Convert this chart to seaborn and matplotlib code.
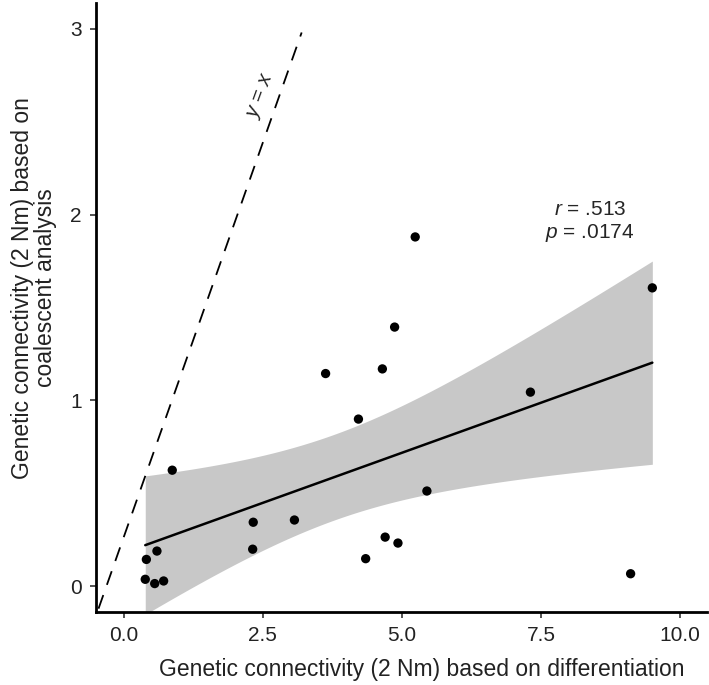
import numpy as np
import pandas as pd
import matplotlib
matplotlib.use("Agg")
import matplotlib.pyplot as plt
import seaborn as sns

# Data
x_diff = [0.41, 0.60, 0.39, 0.56, 0.72, 0.875, 2.33, 2.32, 3.07, 3.63, 4.22,
          4.35, 4.65, 4.70, 4.87, 4.93, 5.24, 5.45, 7.31, 9.11, 9.50]
y_coal = [0.145, 0.19, 0.038, 0.015, 0.029, 0.625, 0.345, 0.20, 0.357, 1.145, 0.90,
          0.149, 1.17, 0.265, 1.395, 0.233, 1.88, 0.513, 1.045, 0.068, 1.606]
ref_x = [-0.45, 3.20]
ref_y = [-0.12, 2.98]
x_ticks = [0.0, 2.5, 5.0, 7.5, 10.0]
x_ticklabels = ["0.0", "2.5", "5.0", "7.5", "10.0"]
y_ticks = [0, 1, 2, 3]
y_ticklabels = ["0", "1", "2", "3"]
stat_text = r"$\it{r}$ = .513" + "\n" + r"$\it{p}$ = .0174"
ref_label = r"$\it{y}$ = $\it{x}$"

df = pd.DataFrame({"x": x_diff, "y": y_coal})

sns.set_style("white")
plt.rcParams["font.family"] = ["Liberation Sans", "DejaVu Sans"]
plt.rcParams["mathtext.fontset"] = "custom"
plt.rcParams["mathtext.rm"] = "Liberation Sans"
plt.rcParams["mathtext.it"] = "Liberation Sans:italic"

fig = plt.figure(figsize=(7.09, 6.85), dpi=100)
ax = fig.add_axes([0.135, 0.106, 0.862, 0.890])

# analytic 95% confidence band of the linear fit
xa = np.array(x_diff); ya = np.array(y_coal)
n = len(xa)
b, a = np.polyfit(xa, ya, 1)
grid = np.linspace(xa.min(), xa.max(), 200)
fit = a + b * grid
resid = ya - (a + b * xa)
s = np.sqrt(np.sum(resid ** 2) / (n - 2))
sxx = np.sum((xa - xa.mean()) ** 2)
se = s * np.sqrt(1 / n + (grid - xa.mean()) ** 2 / sxx)
tval = 2.093  # t(0.975, 19)
ax.fill_between(grid, fit - tval * se, fit + tval * se, color="#c8c8c8", lw=0, zorder=1)

sns.regplot(data=df, x="x", y="y", ax=ax, scatter=False, ci=None,
            line_kws=dict(color="black", lw=1.8, zorder=3))
sns.scatterplot(data=df, x="x", y="y", ax=ax, color="black", s=45,
                edgecolor="none", zorder=4)

ax.plot(ref_x, ref_y, color="black", lw=1.3, dashes=(8, 6), zorder=2)
ax.text(2.47, 2.64, ref_label, rotation=70, fontsize=15, ha="center", va="center")
ax.text(8.38, 1.96, stat_text, fontsize=15, ha="center", va="center", linespacing=1.2)

ax.set_xlim(-0.5, 10.48)
ax.set_ylim(-0.14, 3.14)
ax.set_xticks(x_ticks)
ax.set_xticklabels(x_ticklabels)
ax.set_yticks(y_ticks)
ax.set_yticklabels(y_ticklabels)
ax.tick_params(axis="both", labelsize=15, length=4, width=1.2, color="#333333",
               labelcolor="#222222", direction="out", pad=6)
ax.tick_params(axis="x", bottom=True)
ax.tick_params(axis="y", left=True)
for side in ["top", "right"]:
    ax.spines[side].set_visible(False)
for side in ["left", "bottom"]:
    ax.spines[side].set_linewidth(2.0)
    ax.spines[side].set_color("black")

ax.set_xlabel("Genetic connectivity (2 Nm) based on differentiation", fontsize=16.5,
              color="#222222")
ax.xaxis.set_label_coords(0.534, -0.075)
ax.set_ylabel("Genetic connectivity (2 Nm) based on\ncoalescent analysis", fontsize=16.5,
              color="#222222", linespacing=1.0)
ax.yaxis.set_label_coords(-0.063, 0.532)

fig.savefig("out.png", dpi=100)
